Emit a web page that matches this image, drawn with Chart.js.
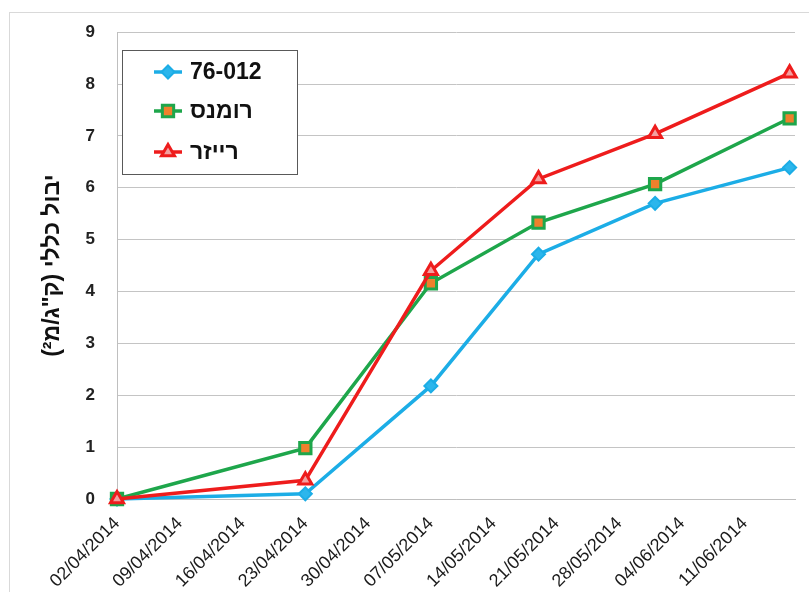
<!DOCTYPE html>
<html>
<head>
<meta charset="utf-8">
<script src="https://cdn.jsdelivr.net/npm/chart.js@4/dist/chart.umd.min.js"></script>
<style>
  html, body { margin: 0; padding: 0; background: #fff; }
  #wrap { position: relative; width: 809px; height: 592px; overflow: hidden; }
</style>
</head>
<body>
<div id="wrap"><canvas id="chart" width="809" height="592"></canvas></div>
<script>
// data
const dates = ['02/04/2014', '23/04/2014', '07/05/2014', '19/05/2014', '01/06/2014', '16/06/2014'];
const seriesNames = ['76-012', 'רומנס', 'רייזר'];
const yield76 = [0, 0.1, 2.18, 4.72, 5.7, 6.39];
const yieldRomans = [0, 0.98, 4.16, 5.33, 6.07, 7.34];
const yieldRaizer = [0, 0.36, 4.4, 6.17, 7.04, 8.21];
const yTicks = [0, 1, 2, 3, 4, 5, 6, 7, 8, 9];
const yTitle = 'יבול כללי (ק"ג/מ²)';

const DAY = 86400000;
const parseDate = s => { const [d, m, y] = s.split('/').map(Number); return Date.UTC(y, m - 1, d); };
const start = parseDate(dates[0]);
const dayOf = s => (parseDate(s) - start) / DAY;
const fmt = n => {
  const d = new Date(start + n * DAY);
  const p = v => String(v).padStart(2, '0');
  return p(d.getUTCDate()) + '/' + p(d.getUTCMonth() + 1) + '/' + d.getUTCFullYear();
};
const pts = vals => vals.map((v, i) => ({ x: dayOf(dates[i]), y: v }));

const FONT = "'Liberation Sans', Arial, sans-serif";

// outer chart frame + legend box
const framePlugin = {
  id: 'frame',
  beforeDraw(chart) {
    const ctx = chart.ctx;
    ctx.save();
    ctx.strokeStyle = '#d9d9d9';
    ctx.lineWidth = 1;
    ctx.strokeRect(9.5, 12.5, 900, 700);
    ctx.restore();
  },
  afterDatasetsDraw(chart) {
    const ctx = chart.ctx;
    const h = Chart.helpers;
    ctx.save();
    ctx.fillStyle = '#fff';
    ctx.fillRect(122, 50, 175, 124);
    ctx.strokeStyle = '#595959';
    ctx.lineWidth = 1;
    ctx.strokeRect(122.5, 50.5, 175, 124);
    const rows = [72, 111, 152];
    chart.data.datasets.forEach((ds, i) => {
      const y = rows[i];
      ctx.strokeStyle = ds.borderColor;
      ctx.lineWidth = 3.5;
      ctx.beginPath();
      ctx.moveTo(154, y);
      ctx.lineTo(182, y);
      ctx.stroke();
      ctx.fillStyle = ds.pointBackgroundColor;
      ctx.strokeStyle = ds.pointBorderColor;
      ctx.lineWidth = ds.pointBorderWidth;
      h.drawPoint(ctx, { pointStyle: ds.pointStyle, radius: ds.pointRadius, rotation: 0, borderWidth: ds.pointBorderWidth }, 168, y);
      ctx.fillStyle = '#111';
      ctx.font = 'bold 23px ' + FONT;
      ctx.textBaseline = 'middle';
      ctx.textAlign = 'left';
      ctx.fillText(ds.label, 190, y + 1);
    });
    ctx.restore();
  }
};

new Chart(document.getElementById('chart'), {
  type: 'line',
  data: {
    datasets: [
      {
        label: seriesNames[0], data: pts(yield76), order: 2, clip: false,
        borderColor: '#1cade6', borderWidth: 3.5,
        pointStyle: 'rectRot', pointRadius: 6.5, pointBorderWidth: 2,
        pointBackgroundColor: '#2cb6ec', pointBorderColor: '#1cade6'
      },
      {
        label: seriesNames[1], data: pts(yieldRomans), order: 1, clip: false,
        borderColor: '#1ea64b', borderWidth: 3.5,
        pointStyle: 'rect', pointRadius: 8, pointBorderWidth: 3,
        pointBackgroundColor: '#f0802c', pointBorderColor: '#1ea64b'
      },
      {
        label: seriesNames[2], data: pts(yieldRaizer), order: 0, clip: false,
        borderColor: '#ee1c1c', borderWidth: 3.5,
        pointStyle: 'triangle', pointRadius: 7.5, pointBorderWidth: 3,
        pointBackgroundColor: '#f3a0a0', pointBorderColor: '#ee1c1c'
      }
    ]
  },
  options: {
    responsive: false,
    animation: false,
    devicePixelRatio: 1,
    layout: { padding: { left: 0, top: 25, right: 14, bottom: 0 } },
    elements: { line: { tension: 0 } },
    plugins: { legend: { display: false }, tooltip: { enabled: false } },
    scales: {
      x: {
        type: 'linear',
        min: 0,
        max: 75.6,
        afterFit(scale) { scale.height = 93; },
        grid: { display: false },
        border: { display: true, color: '#bfbfbf', width: 1 },
        ticks: {
          stepSize: 7,
          includeBounds: false,
          minRotation: 45,
          maxRotation: 45,
          autoSkip: false,
          padding: 6,
          color: '#1a1a1a',
          font: { family: FONT, size: 18 },
          callback: v => (v % 7 === 0 ? fmt(v) : '')
        }
      },
      y: {
        min: yTicks[0],
        max: yTicks[yTicks.length - 1],
        afterFit(scale) { scale.width = 117; },
        afterBuildTicks(scale) { scale.ticks = yTicks.map(v => ({ value: v })); },
        grid: { color: '#c4c4c4', lineWidth: 1, drawTicks: false },
        border: { display: true, color: '#bfbfbf', width: 1 },
        ticks: {
          padding: 22,
          color: '#222',
          font: { family: FONT, size: 17, weight: 'bold' }
        },
        title: {
          display: true,
          text: yTitle,
          color: '#111',
          padding: { top: 39, bottom: 0 },
          font: { family: FONT, size: 23, weight: 'bold' }
        }
      }
    }
  },
  plugins: [framePlugin]
});
</script>
</body>
</html>
